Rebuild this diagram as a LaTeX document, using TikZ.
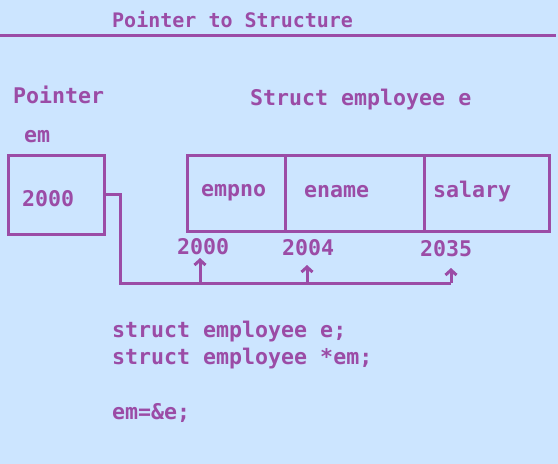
\documentclass[tikz,border=0pt]{standalone}
\usepackage{fontspec}
\setmonofont{DejaVu Sans Mono}
\usetikzlibrary{arrows.meta}
\definecolor{bg}{RGB}{204,229,255}
\definecolor{pur}{RGB}{155,76,166}
\tikzset{
  txt/.style={inner sep=0pt, anchor=base west, text=pur, font=\ttfamily\bfseries\fontsize{21.6}{26}\selectfont},
  ttl/.style={txt, font=\ttfamily\bfseries\fontsize{20}{24}\selectfont},
  cell/.style={draw=pur, line width=3pt, inner sep=0pt, minimum height=76pt},
  wire/.style={draw=pur, line width=3pt},
  arr/.style={draw=pur, line width=3pt, -{Straight Barb[length=5pt,width=11pt,line width=3pt]}}
}
\begin{document}
\begin{tikzpicture}[x=1pt,y=-1pt]
\useasboundingbox (0,0) rectangle (558,464);
\fill[bg] (0,0) rectangle (558,464);
% title
\node[ttl] (title) at (112,27) {Pointer to Structure};
\coordinate (hl) at (0,35);
\coordinate (hr) at (556,35);
\draw[wire] (hl) -- (hr);
% pointer
\node[txt] (plbl) at (13,103) {Pointer};
\node[txt] (em) at (24,142) {em};
\node[cell, minimum width=96pt, minimum height=79pt] (pbox) at (56,194.5) {};
\node[txt] (pval) at (22,206) {2000};
% struct
\node[txt] (slbl) at (250,105) {Struct employee e};
\node[cell, minimum width=98pt] (f1) at (236,193) {};
\node[cell, minimum width=139pt] (f2) at (354.5,193) {};
\node[cell, minimum width=125pt] (f3) at (486.5,193) {};
\node[txt] (t1) at (201,196) {empno};
\node[txt] (t2) at (304,197) {ename};
\node[txt] (t3) at (433,197) {salary};
% addresses
\node[txt] (a1) at (177,254) {2000};
\node[txt] (a2) at (282,255) {2004};
\node[txt] (a3) at (420,256) {2035};
% connector
\coordinate (b0) at (120,283);
\coordinate (b1) at (200,283);
\coordinate (b2) at (307,283);
\coordinate (b3) at (451,283);
\coordinate (u1) at (200,258);
\coordinate (u2) at (307,265);
\coordinate (u3) at (451,268);
\draw[wire, line join=miter] (pbox.east) -- (pbox.east -| b0) -- (b0) -- (b3);
\draw[arr] (b1) -- (u1);
\draw[arr] (b2) -- (u2);
\draw[arr] (b3) -- (u3);
% code
\node[txt] (c1) at (112,337) {struct employee e;};
\node[txt] (c2) at (112,364) {struct employee *em;};
\node[txt] (c3) at (112,419) {em=\&e;};
\end{tikzpicture}
\end{document}
